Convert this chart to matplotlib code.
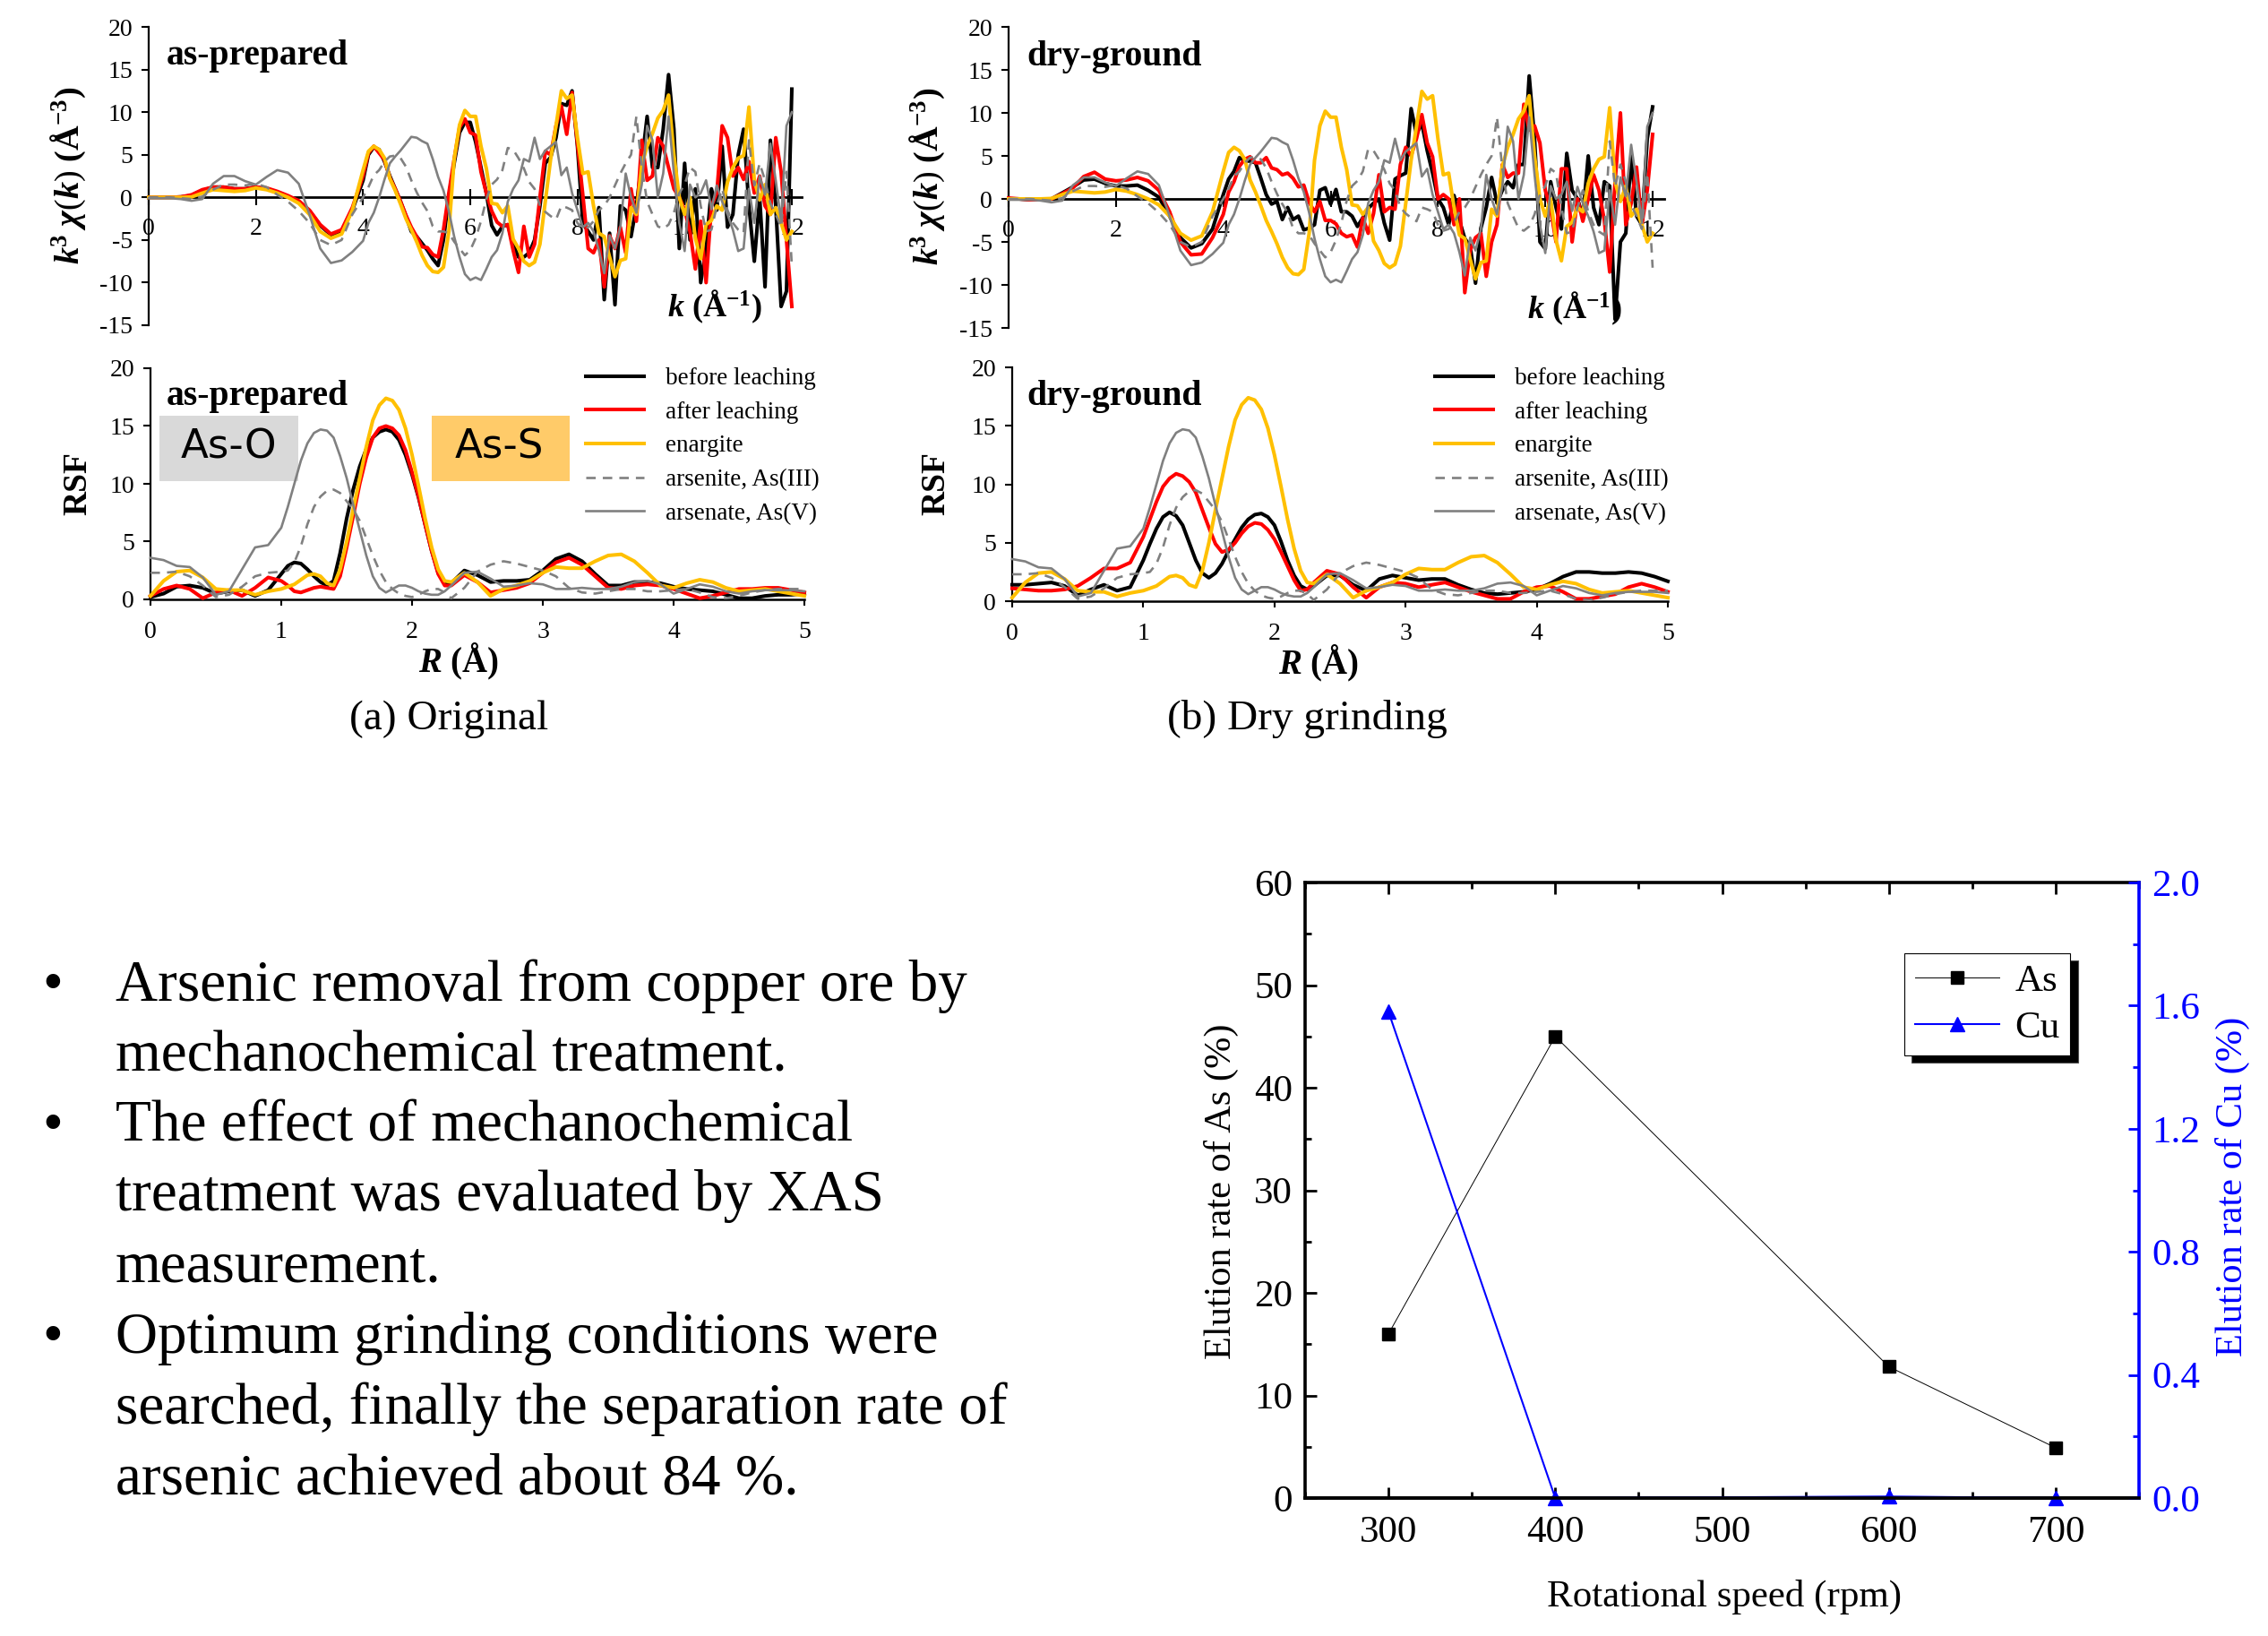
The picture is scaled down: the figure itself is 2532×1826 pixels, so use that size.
#!/usr/bin/env python3
# -*- coding: utf-8 -*-
import matplotlib
matplotlib.use('Agg')
from matplotlib import pyplot as plt
from matplotlib.patches import Rectangle
from matplotlib.lines import Line2D
from matplotlib.ticker import MultipleLocator

plt.rcParams['font.family'] = 'Liberation Serif'
plt.rcParams['mathtext.fontset'] = 'custom'
plt.rcParams['mathtext.rm'] = 'Liberation Serif'
plt.rcParams['mathtext.it'] = 'Liberation Serif:italic'
plt.rcParams['mathtext.bf'] = 'Liberation Serif:bold'
plt.rcParams['mathtext.bfit'] = 'Liberation Serif:italic:bold'

W, H = 2532, 1826

# EXAFS oscillations, k grid
k = [0, 0.2, 0.4, 0.6, 0.8, 1.0, 1.2, 1.4, 1.6, 1.8,
     2.0, 2.2, 2.4, 2.6, 2.8, 3.0, 3.2, 3.4, 3.6, 3.8,
     4.0, 4.1, 4.2, 4.3, 4.4, 4.5, 4.6, 4.7, 4.8, 4.9,
     5.0, 5.1, 5.2, 5.3, 5.4, 5.5, 5.6, 5.7, 5.8, 5.9,
     6.0, 6.1, 6.2, 6.3, 6.4, 6.5, 6.6, 6.7, 6.8, 6.9,
     7.0, 7.1, 7.2, 7.3, 7.4, 7.5, 7.6, 7.7, 7.8, 7.9,
     8.0, 8.1, 8.2, 8.3, 8.4, 8.5, 8.6, 8.7, 8.8, 8.9,
     9.0, 9.1, 9.2, 9.3, 9.4, 9.5, 9.6, 9.7, 9.8, 9.9,
     10.0, 10.1, 10.2, 10.3, 10.4, 10.5, 10.6, 10.7, 10.8, 10.9,
     11.0, 11.1, 11.2, 11.3, 11.4, 11.5, 11.6, 11.7, 11.8, 11.9,
     12.0]

chi_before_orig = [0, 0, 0, 0.05, 0.2, 0.8, 1.2, 1.2, 1.0, 1.0,
                   1.2, 1.0, 0.6, 0.1, -0.5, -1.6, -3.3, -4.4, -4.0, -1.5,
                   2.0, 5, 5.9, 5.6, 4.2, 2.5, 1.0, -0.5, -2.2, -4,
                   -4.6, -5.4, -6.2, -7.2, -8, -5, 0, 4, 7.6, 8.8,
                   8.8, 6.5, 3.5, 0.5, -3.3, -4.4, -3.4, -3.2, -5.5, -7,
                   -7, -6.5, -5, -1, 4, 4.7, 7, 11, 10.8, 12.5,
                   6, -3, -4, -5, -1.2, -12, -4.2, -12.6, -1, -1.5,
                   -4.6, -1, 4, 9.5, 3.5, 3.5, 8, 14.4, 8, -6,
                   4, -5, 1, -10, -6, 1, -1.5, 6, -3.5, -2,
                   5, 8, -1, -7.5, 0, -10.5, 6.7, -1, -12.8, -11,
                   12.7]

chi_after_orig = [0, 0, 0, 0.05, 0.3, 0.9, 1.2, 1.2, 1.0, 1.0,
                  1.2, 1.1, 0.7, 0.2, -0.4, -1.5, -3.2, -4.3, -3.8, -1.2,
                  2.5, 5.2, 6.0, 5.2, 4.4, 2.3, 1.0, -0.5, -2.1, -3.5,
                  -4.6, -5.8, -5.9, -6.7, -7.0, -3.8, 0.5, 4.5, 8.2, 9.2,
                  7.6, 7.3, 3.0, 0.5, -1.6, -2.9, -3.4, -3.2, -6.2, -8.8,
                  -3.4, -7.0, -5.5, 0.0, 5.4, 5.0, 8.4, 10.7, 7.4, 12.3,
                  6.3, 0.3, -6.0, -6.5, -5, -10.5, -4.5, -6, -3.5, -6.5,
                  1, -2.8, 6.7, 2, 2.5, 7, 6, 3.5, 1, 0,
                  -1.5, -4, -8.4, -2.8, -10, -1, 0.5, 8.4, 7, 2.5,
                  3.5, 2.1, 4.2, 0.5, 2.5, -1, -2, 7, 3, -5,
                  -12.8]

chi_enargite = [0, 0, 0, 0, 0.05, 0.5, 0.9, 0.8, 0.7, 0.8,
                1.1, 0.9, 0.5, 0, -0.7, -2, -4, -4.8, -4.3, -1.5,
                3.2, 5.4, 6, 5.6, 4.6, 2.2, 0.8, -0.8, -2.5, -3.8,
                -5.2, -6.8, -8, -8.7, -8.8, -8.2, -4, 4.5, 8.5, 10.2,
                9.5, 9.5, 6, 3.4, -0.7, -0.8, -1.8, -1.0, -4.9, -6,
                -7.5, -8, -7.6, -5.5, -0.5, 4.5, 8.4, 12.5, 11.6, 12,
                7, 2.8, 3, -1, -4.2, -4.6, -7, -9.3, -7.4, -7.2,
                -1.2, -2, 3.8, 6, 7.5, 9.3, 10.2, 12, 5, 0,
                -2, 0, -4.8, -7.2, -3.2, -2.7, -1, -1.5, 1.8, 3.5,
                4.6, 4.9, 10.6, 2, -0.3, 1.5, -2, -1.2, -3, -5,
                -4]

chi_arsenite = [0, 0, 0, -0.1, -0.2, 0.1, 0.9, 1.5, 1.5, 1.4,
                1.6, 1.2, 0.3, -0.5, -1.6, -3, -5, -5.6, -5, -2,
                0, 1.2, 2.6, 3.2, 4.2, 4.8, 4.9, 4.6, 3.6, 2,
                0.6, -0.6, -1.6, -3.4, -4, -4, -4.2, -5.2, -6, -6.8,
                -6.2, -4.8, -2.8, -0.2, 1.5, 2.1, 3.2, 5.8, 5.6, 4.6,
                3.4, 1.8, 1, -1.0, -1.7, -2.2, -2.6, -1, -1.2, -1.5,
                -3, -3.7, -3.5, -2.8, -1.5, -1, 0, 1.4, 2.8, 4,
                5, 9.5, 3.5, -0.5, -2, -3.4, -3.7, -3.2, -1.8, 0.5,
                1.5, 3.5, 3, -1, -4, -3.8, -1, 1, -1.5, -3,
                -3.8, -4.2, 6.7, 1.4, 4, 2, -0.7, -2, -3.5, 3,
                -8]

chi_arsenate = [-0.1, -0.1, -0.1, -0.2, -0.4, -0.2, 1.6, 2.5, 2.5, 1.9,
                1.5, 2.4, 3.2, 2.9, 1.6, -2, -6, -7.7, -7.4, -6.4,
                -5.1, -3, -1.8, 0, 2.1, 4, 4.8, 5.5, 6.3, 7.1,
                7, 6.6, 6.3, 4.5, 2.4, 0.8, -1.6, -4.6, -7, -9,
                -9.7, -9.4, -9.7, -8.4, -7, -6.2, -4.2, -0.5, 1, 2,
                4.5, 4.2, 7, 4.5, 5.5, 6, 6.5, 2.6, 3.5, 0.5,
                -1.5, -3.5, -3, -4, -6.2, -8.9, -4.5, -6, -3.5, 2.8,
                0, -1.8, 1.5, 8.4, 6.7, 0, 2.8, 9.5, 2.8, -3,
                -6.3, 1.5, 0, 0.5, 2, -1.4, 1.4, -0.5, -2, -3.8,
                -6.3, -6, 1, -3, 2.5, 0.3, 6.3, 2, -2.8, 8.4,
                10]

chi_before_dry = [0, 0, -0.1, -0.1, 0, 0.7, 1.4, 2.2, 2.3, 1.8,
                  1.5, 1.5, 1.6, 1.0, 0.2, -2.0, -4.5, -5.7, -5.2, -3.5,
                  0.5, 2.3, 3.2, 4.8, 4.4, 4.4, 4.2, 2.4, 0.5, -0.6,
                  -0.3, -2.4, -1, -2.4, -2, -3.6, -3.4, -3, 1, 1.3,
                  -0.6, 1.1, -1.5, -1.5, -2, -3.2, -2.2, -1.1, -0.5, 0,
                  -2.8, -4.8, 2.3, 2.7, 3, 10.5, 7.5, 8.8, 5.6, 3,
                  0, -1, -3, 0.4, -2.5, -4.6, -5.5, -9.8, -3.4, -1,
                  2.5, -0.5, 1, 2, 1.3, 4, 4, 14.3, 7, -5,
                  -5.8, 2, -1, -3.5, 5.3, 1, 0, -2, 5, -1,
                  -3, 2, 1.5, -14, -5, -4, 5, -2, -3, 7,
                  10.7]

chi_after_dry = [0.1, 0, -0.1, -0.1, 0, 0.6, 1.3, 2.6, 3.1, 2.3,
                 2.1, 2.2, 2.5, 2.1, 1.0, -1.5, -5, -6.5, -6.4, -4.5,
                 -1.8, 0.8, 2, 3.8, 4.6, 4.9, 4.2, 4.2, 4.8, 3.6,
                 3.4, 2.8, 3, 2.4, 1.4, 1.6, -0.4, -1.5, -0.3, -2.5,
                 -2.5, -2.9, -4, -4.4, -4.2, -5.6, -2.2, -4, -1.7, 2.8,
                 -1.5, -1, -1.2, 4, 6, 5, 7, 9.8, 6.5, 4.9,
                 0, 0.5, 0, -3, 0, -10.9, -6, -4.5, -4, -9,
                 -5, -3, 4, 2.5, 3, 3, 11, 8, 8.5, 6.5,
                 1, -1.2, -5, 3.5, 3.5, -5, 0, -2.6, 0, 2.8,
                 1, -2.5, -8.5, 2, 10, -3, -0.5, 3.7, -3, 1,
                 7.5]

# radial distribution, R grid (finer over the main peaks)
r = [0, 0.1, 0.2, 0.3, 0.4, 0.5, 0.6, 0.7, 0.8, 0.9,
     1.0, 1.05, 1.1, 1.15, 1.2, 1.25, 1.3, 1.35, 1.4, 1.45,
     1.5, 1.55, 1.6, 1.65, 1.7, 1.75, 1.8, 1.85, 1.9, 1.95,
     2.0, 2.05, 2.1, 2.15, 2.2, 2.25, 2.3, 2.4, 2.5, 2.6, 2.7, 2.8, 2.9,
     3.0, 3.1, 3.2, 3.3, 3.4, 3.5, 3.6, 3.7, 3.8, 3.9,
     4.0, 4.1, 4.2, 4.3, 4.4, 4.5, 4.6, 4.7, 4.8, 4.9,
     5.0]

rsf_before_orig = [0.2, 0.5, 1.1, 1.2, 1.0, 0.5, 0.7, 0.8, 0.3, 0.8,
                   2.2, 2.9, 3.2, 3.1, 2.6, 2.0, 1.5, 1.2, 1.6, 4,
                   7, 9.5, 11.5, 13, 14, 14.5, 14.7, 14.5, 13.8, 12.5,
                   10.8, 8.8, 6.5, 4.2, 2.3, 1.4, 1.4, 2.5, 2.1, 1.5, 1.6, 1.6, 1.7,
                   2.5, 3.5, 3.9, 3.3, 2.2, 1.2, 1.2, 1.5, 1.5, 1.4,
                   1.1, 0.9, 0.8, 0.7, 0.4, 0.1, 0.1, 0.3, 0.4, 0.4,
                   0.5]
rsf_after_orig = [0.3, 0.9, 1.2, 0.9, 0.1, 0.6, 0.8, 0.3, 1.0, 1.9,
                  1.6, 1.2, 0.7, 0.6, 0.8, 1.0, 1.1, 1.0, 0.9, 2,
                  4.5, 7.2, 10, 12.3, 14, 14.8, 15, 14.8, 14.2, 12.9,
                  11, 8.9, 6.5, 4.2, 2.2, 1.2, 1.2, 2.1, 1.5, 0.6, 0.8, 1.0, 1.4,
                  2.3, 3.2, 3.6, 3.0, 2.0, 1.0, 0.9, 1.2, 1.3, 1.2,
                  0.9, 0.5, 0.1, 0.3, 0.6, 0.9, 0.9, 1.0, 1.0, 0.8,
                  0.6]
rsf_enargite = [0.3, 1.6, 2.4, 2.5, 1.9, 0.9, 0.8, 0.8, 0.4, 0.7,
                0.9, 1.1, 1.3, 1.7, 2.1, 2.2, 2.0, 1.4, 1.2, 2.6,
                5, 7.8, 10.5, 13.2, 15.5, 16.8, 17.4, 17.2, 16.4, 14.8,
                12.5, 9.8, 7, 4.5, 2.6, 1.6, 1.5, 2.3, 1.5, 0.3, 0.9, 1.2, 1.6,
                2.3, 2.8, 2.7, 2.7, 3.3, 3.8, 3.9, 3.3, 2.3, 1.2,
                1.0, 1.4, 1.7, 1.5, 1.0, 0.7, 0.8, 0.9, 0.7, 0.5,
                0.3]
rsf_arsenite = [2.3, 2.3, 2.4, 2.0, 1.2, 0.2, 0.4, 1.1, 2.0, 2.3,
                2.4, 2.5, 3.2, 4.6, 6.5, 8, 8.9, 9.4, 9.5, 9.2,
                8.5, 7.8, 6.8, 5.3, 3.8, 2.5, 1.5, 0.9, 0.5, 0.3,
                0.2, 0.4, 0.7, 0.9, 0.9, 0.6, 0.1, 1.0, 2.4, 3.0, 3.3, 3.1, 2.8,
                2.5, 2.0, 1.0, 0.6, 0.5, 0.7, 0.9, 0.9, 0.7, 0.7,
                0.8, 0.9, 0.6, 0.2, 0.1, 0.3, 0.6, 0.8, 0.9, 0.9,
                0.9]
rsf_arsenate = [3.6, 3.4, 2.9, 2.8, 1.9, 0.4, 0.7, 2.6, 4.5, 4.7,
                6.2, 8, 10, 12, 13.5, 14.4, 14.7, 14.6, 14, 12.4,
                10.5, 8.2, 6, 3.8, 2, 1, 0.6, 0.9, 1.2, 1.2,
                1, 0.7, 0.5, 0.4, 0.4, 0.7, 1.2, 2.3, 2.4, 1.8, 1.1, 1.2, 1.4,
                1.3, 0.9, 0.9, 1.0, 0.9, 0.9, 1.1, 1.5, 1.6, 1.3,
                0.5, 0.9, 1.3, 1.1, 0.7, 0.5, 0.7, 0.8, 0.8, 0.8,
                0.7]
rsf_before_dry = [1.4, 1.4, 1.5, 1.6, 1.3, 0.5, 1.0, 1.4, 0.9, 1.2,
                  3.5, 4.9, 6.2, 7.2, 7.6, 7.3, 6.5, 5, 3.5, 2.4,
                  2.0, 2.4, 3.2, 4.3, 5.3, 6.3, 7, 7.4, 7.5, 7.2,
                  6.5, 5.1, 3.5, 2.2, 1.3, 1.0, 1.3, 2.2, 2.2, 1.4, 0.9, 1.9, 2.2,
                  2.0, 1.8, 1.9, 1.9, 1.4, 1.0, 0.7, 0.6, 0.7, 0.8,
                  1.0, 1.5, 2.1, 2.5, 2.5, 2.4, 2.4, 2.5, 2.4, 2.1,
                  1.7]
rsf_after_dry = [1.1, 1.0, 0.9, 0.9, 1.0, 1.3, 2.0, 2.8, 2.8, 3.3,
                 5.5, 7, 8.5, 9.8, 10.5, 10.9, 10.7, 10.2, 9.3, 7.8,
                 6.3, 4.9, 4.2, 4.4, 5, 5.8, 6.4, 6.7, 6.6, 6.1,
                 5.3, 4.2, 3, 1.8, 0.9, 1.0, 1.6, 2.6, 2.3, 1.2, 0.3, 1.2, 1.6,
                 1.5, 1.2, 1.4, 1.6, 1.2, 0.8, 0.5, 0.2, 0.2, 0.8,
                 1.2, 1.3, 0.8, 0.2, 0.2, 0.4, 0.6, 1.2, 1.5, 1.2,
                 0.8]

# elution vs rotational speed
speed = [300, 400, 600, 700]
as_rate = [16, 45, 12.8, 4.9]
cu_rate = [1.58, 0, 0.005, 0]

series_names = ['before leaching', 'after leaching', 'enargite',
                'arsenite, As(III)', 'arsenate, As(V)']
bullets = ['Arsenic removal from copper ore by',
           'mechanochemical treatment.',
           'The effect of mechanochemical',
           'treatment was evaluated by XAS',
           'measurement.',
           'Optimum grinding conditions were',
           'searched, finally the separation rate of',
           'arsenic achieved about 84 %.']
bullet_lines = [0, 2, 5]

styles = [dict(color='k', lw=2.9),
          dict(color='#ff0000', lw=2.9),
          dict(color='#ffc000', lw=2.9),
          dict(color='#808080', lw=1.9, dashes=(4, 3)),
          dict(color='#808080', lw=1.9)]


def new_axes(x0, x1, y0, y1):
    # pixel box of the reference -> figure fractions
    ax = fig.add_axes([x0 / W, 1 - y1 / H, (x1 - x0) / W, (y1 - y0) / H])
    ax.patch.set_alpha(0)
    return ax


def put(x, y, s, **kw):
    # text placed by reference pixels (baseline)
    kw.setdefault('va', 'baseline')
    return fig.text(x / W, 1 - y / H, s, **kw)


def curves(ax, xs, ys):
    for y, st in zip(ys, styles):
        ax.plot(xs, y, zorder=3, clip_on=False, **st)


def chi_panel(x0, x12, xend, y20, y15, ys):
    ax = new_axes(x0, xend, y20, y15)
    curves(ax, k, ys)
    ax.set_xlim(0, 12 * (xend - x0) / (x12 - x0))
    ax.set_ylim(-15, 20)
    ax.set_xticks([0, 2, 4, 6, 8, 10, 12])
    ax.set_yticks([-15, -10, -5, 0, 5, 10, 15, 20])
    ax.set_yticklabels(['-15', '-10', '-5', '0', '5', '10', '15', '20'])
    ax.spines['top'].set_visible(False)
    ax.spines['right'].set_visible(False)
    ax.spines['bottom'].set_position(('data', 0))
    ax.spines['bottom'].set_linewidth(2.0)
    ax.spines['left'].set_linewidth(1.6)
    ax.spines['bottom'].set_zorder(1)
    ax.set_axisbelow(True)
    ax.tick_params(axis='x', direction='inout', length=13, width=1.5, pad=10, labelsize=20)
    ax.tick_params(axis='y', direction='out', length=6, width=1.5, pad=7, labelsize=20)
    return ax


def rsf_panel(x0, x1, y20, y0, ys, legx):
    ax = new_axes(x0, x1, y20, y0)
    curves(ax, r, ys)
    ax.set_xlim(0, 5)
    ax.set_ylim(0, 20)
    ax.set_xticks([0, 1, 2, 3, 4, 5])
    ax.set_yticks([0, 5, 10, 15, 20])
    ax.spines['top'].set_visible(False)
    ax.spines['right'].set_visible(False)
    ax.spines['bottom'].set_linewidth(1.8)
    ax.spines['left'].set_linewidth(1.6)
    ax.tick_params(axis='x', direction='out', length=5, width=1.5, pad=12, labelsize=20)
    ax.tick_params(axis='y', direction='out', length=6, width=1.5, pad=7, labelsize=20)
    handles = [Line2D([], [], **st) for st in styles]
    fig.legend(handles, series_names, loc='upper left', frameon=False,
               bbox_to_anchor=(legx / W, 1 - 410 / H), borderpad=0, borderaxespad=0,
               fontsize=19.5, handlelength=2.4, handletextpad=0.88, labelspacing=0.47)
    return ax


fig = plt.figure(figsize=(W / 100, H / 100), dpi=100, facecolor='white')

# shaded regions sit under the axes
fig.add_artist(Rectangle((178 / W, 1 - 537 / H), 155 / W, 73 / H, transform=fig.transFigure,
                         facecolor='#d9d9d9', edgecolor='none', zorder=-1))
fig.add_artist(Rectangle((482 / W, 1 - 537 / H), 154 / W, 73 / H, transform=fig.transFigure,
                         facecolor='#ffcb69', edgecolor='none', zorder=-1))

chi_panel(166, 884, 895, 30, 363, [chi_before_orig, chi_after_orig, chi_enargite, chi_arsenite, chi_arsenate])
chi_panel(1126, 1845, 1858, 30, 366, [chi_before_dry, chi_after_dry, chi_enargite, chi_arsenite, chi_arsenate])
rsf_panel(168, 898, 411, 669, [rsf_before_orig, rsf_after_orig, rsf_enargite, rsf_arsenite, rsf_arsenate], 654)
rsf_panel(1130, 1862, 410, 671, [rsf_before_dry, rsf_after_dry, rsf_enargite, rsf_arsenite, rsf_arsenate], 1602)

put(255, 499, 'As-O', family='DejaVu Sans', fontsize=32.5, ha='center', va='center')
put(557, 499, 'As-S', family='DejaVu Sans', fontsize=32.5, ha='center', va='center')

for x, y, s in [(186, 72, 'as-prepared'), (186, 452, 'as-prepared'),
                (1146, 73, 'dry-ground'), (1146, 452, 'dry-ground')]:
    put(x, y, s, fontsize=28.5, fontweight='bold')

chi_label = r'$\mathbfit{k}^{\mathbf{3}}\ \mathbfit{\chi}(\mathbfit{k})$ (Å$^{\mathbf{-3}}$)'
k_label = r'$\mathbfit{k}$ (Å$^{\mathbf{-1}}$)'
for x, y in [(76, 196), (1035, 197)]:
    put(x, y, chi_label, fontsize=27.5, fontweight='bold', rotation=90, ha='center', va='center')
put(745, 353, k_label, fontsize=26, fontweight='bold')
put(1705, 355, k_label, fontsize=26, fontweight='bold')

put(87, 540, 'RSF', fontsize=27, fontweight='bold', rotation=90, ha='center', va='center')
put(1045, 540, 'RSF', fontsize=27, fontweight='bold', rotation=90, ha='center', va='center')
r_label = r'$\mathbfit{R}$ (Å)'
put(467, 750, r_label, fontsize=28, fontweight='bold')
put(1427, 752, r_label, fontsize=28, fontweight='bold')
put(501, 814, '(a) Original', fontsize=34, ha='center')
put(1459, 814, '(b) Dry grinding', fontsize=34, ha='center')

# bullet text
line_y = [1117, 1195, 1274, 1351, 1430.5, 1509.5, 1589, 1668]
for i, s in enumerate(bullets):
    put(129, line_y[i], s, fontsize=47)
for i in bullet_lines:
    put(47, line_y[i], '•', fontsize=47)

# elution chart
ax1 = new_axes(1457, 2388, 985, 1672)
ax1.plot(speed, as_rate, color='k', lw=0.7, marker='s', ms=10.5, label='As', zorder=3)
ax1.set_xlim(250, 750)
ax1.set_ylim(0, 60)
ax1.xaxis.set_major_locator(MultipleLocator(100))
ax1.xaxis.set_minor_locator(MultipleLocator(50))
ax1.yaxis.set_major_locator(MultipleLocator(10))
ax1.yaxis.set_minor_locator(MultipleLocator(5))
ax1.tick_params(which='major', direction='in', length=9, width=2, top=True, labelsize=31, pad=10)
ax1.tick_params(which='minor', direction='in', length=5, width=2, top=True)
ax1.tick_params(axis='x', which='major', pad=14)
ax1.spines['right'].set_visible(False)
for sp in ['left', 'top', 'bottom']:
    ax1.spines[sp].set_linewidth(2.6)

ax2 = ax1.twinx()
ax2.patch.set_alpha(0)
ax2.plot(speed, cu_rate, color='#0000ff', lw=1.5, marker='^', ms=11, label='Cu', clip_on=False, zorder=2)
ax2.set_ylim(0, 2)
ax2.yaxis.set_major_locator(MultipleLocator(0.4))
ax2.yaxis.set_minor_locator(MultipleLocator(0.2))
ax2.tick_params(axis='y', which='major', direction='in', length=9, width=2,
                colors='#0000ff', labelsize=31, pad=10)
ax2.tick_params(axis='y', which='minor', direction='in', length=5, width=2, colors='#0000ff')
ax2.set_yticks([0, 0.4, 0.8, 1.2, 1.6, 2.0])
ax2.set_yticklabels(['0.0', '0.4', '0.8', '1.2', '1.6', '2.0'])
for sp in ['left', 'top']:
    ax2.spines[sp].set_visible(False)
ax2.spines['bottom'].set_linewidth(2.6)
ax2.spines['right'].set_color('#0000ff')
ax2.spines['right'].set_linewidth(2.6)

h1, l1 = ax1.get_legend_handles_labels()
h2, l2 = ax2.get_legend_handles_labels()
leg = ax2.legend(h1 + h2, l1 + l2, loc='upper left', fontsize=31, fancybox=False, framealpha=1,
                 edgecolor='k', bbox_to_anchor=(2126 / W, 1 - 1064 / H),
                 bbox_transform=fig.transFigure, borderaxespad=0, borderpad=0.27,
                 handlelength=2.2, handletextpad=0.4, labelspacing=0.3,
                 shadow={'ox': 6, 'oy': -5.5, 'facecolor': 'k', 'alpha': 1})
leg.get_frame().set_linewidth(0.8)

put(1925, 1793, 'Rotational speed (rpm)', fontsize=31, ha='center')
put(1363, 1330, 'Elution rate of As (%)', fontsize=30.5, rotation=90, ha='center', va='center')
put(2492, 1324, 'Elution rate of Cu (%)', fontsize=30.5, rotation=90, ha='center', va='center', color='#0000ff')

fig.savefig('out.png', dpi=100)
